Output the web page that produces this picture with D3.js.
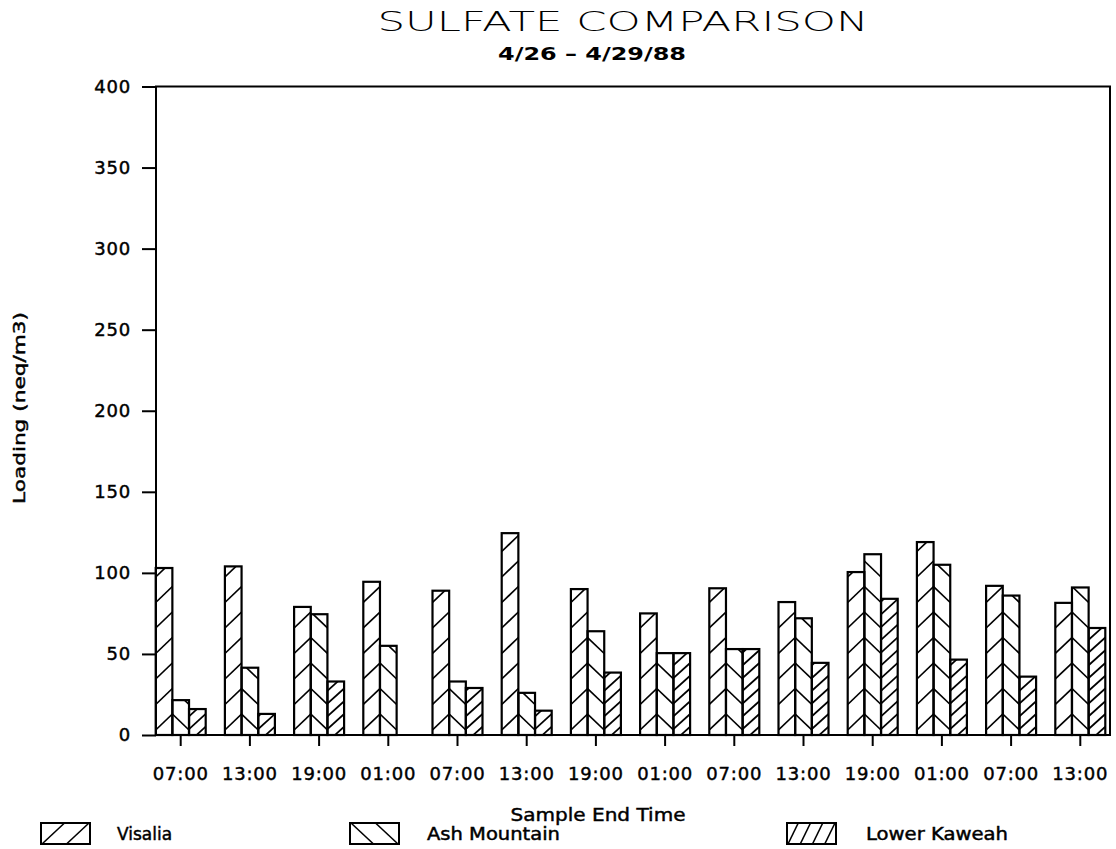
<!DOCTYPE html>
<html>
<head>
<meta charset="utf-8">
<script src="https://cdn.jsdelivr.net/npm/d3@7"></script>
<style>
  html, body { margin: 0; padding: 0; background: #fff; }
  svg { display: block; }
  text { font-family: "DejaVu Sans", sans-serif; fill: #000; }
  .heavy { stroke: #000; stroke-width: 0.45px; }
</style>
</head>
<body>
<svg id="chart" width="1116" height="849"></svg>
<script>
// Sample end times (4/26 - 4/29/88), one group of bars per sample
const sampleTimes = ["07:00", "13:00", "19:00", "01:00", "07:00", "13:00", "19:00",
                     "01:00", "07:00", "13:00", "19:00", "01:00", "07:00", "13:00"];
const seriesNames = ["Visalia", "Ash Mountain", "Lower Kaweah"];

// Sulfate loading, neq/m3
const visalia     = [103, 104, 79, 94.5, 89, 124.5, 90, 75, 90.5, 82, 100.5, 119, 92, 81.5];
const ashMountain = [21.5, 41.5, 74.5, 55, 33, 26, 64, 50.5, 53, 72, 111.5, 105, 86, 91];
const lowerKaweah = [16, 13, 33, null, 29, 15, 38.5, 50.5, 53, 44.5, 84, 46.5, 36, 66];

const yTicks = [0, 50, 100, 150, 200, 250, 300, 350, 400];

const seriesValues = [visalia, ashMountain, lowerKaweah];

// Hatch style per station: slant direction, vertical spacing, rise across a bar
const hatch = {
  "Visalia":      { dir: 1,  spacing: 25.5,  rise: 16 },
  "Ash Mountain": { dir: -1, spacing: 25.5,  rise: 16 },
  "Lower Kaweah": { dir: 1,  spacing: 12.75, rise: 15 }
};
const legendLines = { "Visalia": 2, "Ash Mountain": 2, "Lower Kaweah": 4 };

const svg = d3.select("#chart");
const plot = { left: 156, right: 1110, top: 86.5, bottom: 735 };

const x = d3.scaleBand()
  .domain(d3.range(sampleTimes.length))
  .range([155.7, 1105.3])
  .paddingInner(0.2775)
  .paddingOuter(0);

const xs = d3.scaleBand()
  .domain(seriesNames)
  .range([0, x.bandwidth()]);

const y = d3.scaleLinear()
  .domain([0, 400])
  .range([plot.bottom, plot.top]);

// Title block
svg.append("text")
  .attr("x", 623).attr("y", 31)
  .attr("text-anchor", "middle")
  .attr("font-size", 26)
  .attr("font-weight", 200)
  .attr("textLength", 491)
  .attr("lengthAdjust", "spacingAndGlyphs")
  .text("SULFATE COMPARISON");

svg.append("text")
  .attr("x", 592).attr("y", 60)
  .attr("text-anchor", "middle")
  .attr("font-size", 17)
  .attr("font-weight", "bold")
  .attr("textLength", 188)
  .attr("lengthAdjust", "spacingAndGlyphs")
  .text("4/26 – 4/29/88");

// Bars with hatch fills
const defs = svg.append("defs");
const barData = [];
sampleTimes.forEach((t, i) => {
  seriesNames.forEach((s, j) => {
    const v = seriesValues[j][i];
    if (v == null) return;
    barData.push({ i, series: s, value: v });
  });
});

barData.forEach((d, n) => {
  const x0 = x(d.i) + xs(d.series);
  const w = xs.bandwidth();
  const yTop = y(d.value);
  const h = y(0) - yTop;
  const id = "bar-clip-" + n;
  defs.append("clipPath").attr("id", id)
    .append("rect").attr("x", x0).attr("y", yTop).attr("width", w).attr("height", h);

  const hs = hatch[d.series];
  const base = y(0);
  const lines = [];
  const count = Math.ceil(h / hs.spacing) + 3;
  for (let k = -2; k < count; k++) {
    const yv = base - 21 - hs.spacing * k;
    if (hs.dir > 0) lines.push([x0, yv + hs.rise, x0 + w, yv]);
    else lines.push([x0, yv, x0 + w, yv + hs.rise]);
  }
  const g = svg.append("g").attr("clip-path", `url(#${id})`);
  g.selectAll("line").data(lines).join("line")
    .attr("x1", l => l[0]).attr("y1", l => l[1])
    .attr("x2", l => l[2]).attr("y2", l => l[3])
    .attr("stroke", "#000").attr("stroke-width", 1.7);

  svg.append("rect")
    .attr("x", x0).attr("y", yTop).attr("width", w).attr("height", h)
    .attr("fill", "none").attr("stroke", "#000").attr("stroke-width", 2.2);
});

// Plot frame
svg.append("rect")
  .attr("x", plot.left).attr("y", plot.top)
  .attr("width", plot.right - plot.left).attr("height", plot.bottom - plot.top)
  .attr("fill", "none").attr("stroke", "#000").attr("stroke-width", 2);

// Y axis
const yAxis = svg.append("g")
  .attr("transform", `translate(${plot.left},0)`)
  .call(d3.axisLeft(y).tickValues(yTicks).tickSize(14).tickSizeOuter(0).tickPadding(11));
yAxis.select(".domain").remove();
yAxis.selectAll(".tick line").attr("stroke", "#000").attr("stroke-width", 2);
yAxis.selectAll(".tick text")
  .attr("class", "heavy")
  .attr("font-family", "DejaVu Sans, sans-serif")
  .attr("font-size", 18)
  .attr("letter-spacing", 0.8)
  .attr("fill", "#000");

// X axis
const xAxis = svg.append("g")
  .attr("transform", `translate(0,${plot.bottom})`)
  .call(d3.axisBottom(x).tickSize(11).tickSizeOuter(0).tickFormat(i => sampleTimes[i]));
xAxis.select(".domain").remove();
xAxis.selectAll(".tick line").attr("stroke", "#000").attr("stroke-width", 2);
xAxis.selectAll(".tick text")
  .attr("class", "heavy")
  .attr("y", 45).attr("dy", 0)
  .attr("font-family", "DejaVu Sans, sans-serif")
  .attr("font-size", 18)
  .attr("letter-spacing", 0.8)
  .attr("fill", "#000");

// Axis titles
svg.append("text")
  .attr("class", "heavy")
  .attr("transform", "translate(25,408) rotate(-90)")
  .attr("text-anchor", "middle")
  .attr("font-size", 16)
  .attr("textLength", 192)
  .attr("lengthAdjust", "spacingAndGlyphs")
  .text("Loading (neq/m3)");

svg.append("text")
  .attr("class", "heavy")
  .attr("x", 598).attr("y", 821)
  .attr("text-anchor", "middle")
  .attr("font-size", 18)
  .attr("textLength", 175)
  .attr("lengthAdjust", "spacingAndGlyphs")
  .text("Sample End Time");

// Legend
const legendX = { "Visalia": 41, "Ash Mountain": 350, "Lower Kaweah": 787 };
const legendTextX = { "Visalia": 117, "Ash Mountain": 427, "Lower Kaweah": 866 };
const legendTextW = { "Visalia": null, "Ash Mountain": 133, "Lower Kaweah": 142 };
const boxW = 49, boxH = 21, boxY = 823;
seriesNames.forEach(s => {
  const bx = legendX[s];
  const g = svg.append("g");
  const nLines = legendLines[s];
  const dx = boxW / nLines;
  const segs = d3.range(nLines).map(k => {
    const a = bx + k * dx + 1, b = bx + (k + 1) * dx - 1;
    return hatch[s].dir > 0 ? [a, boxY + boxH, b, boxY] : [a, boxY, b, boxY + boxH];
  });
  g.selectAll("line").data(segs).join("line")
    .attr("x1", l => l[0]).attr("y1", l => l[1])
    .attr("x2", l => l[2]).attr("y2", l => l[3])
    .attr("stroke", "#000").attr("stroke-width", 1.6);
  g.append("rect")
    .attr("x", bx).attr("y", boxY).attr("width", boxW).attr("height", boxH)
    .attr("fill", "none").attr("stroke", "#000").attr("stroke-width", 2);
  const label = svg.append("text")
    .attr("class", "heavy")
    .attr("x", legendTextX[s]).attr("y", 840)
    .attr("font-size", 17)
    .text(s);
  if (legendTextW[s]) {
    label.attr("textLength", legendTextW[s]).attr("lengthAdjust", "spacingAndGlyphs");
  }
});
</script>
</body>
</html>
